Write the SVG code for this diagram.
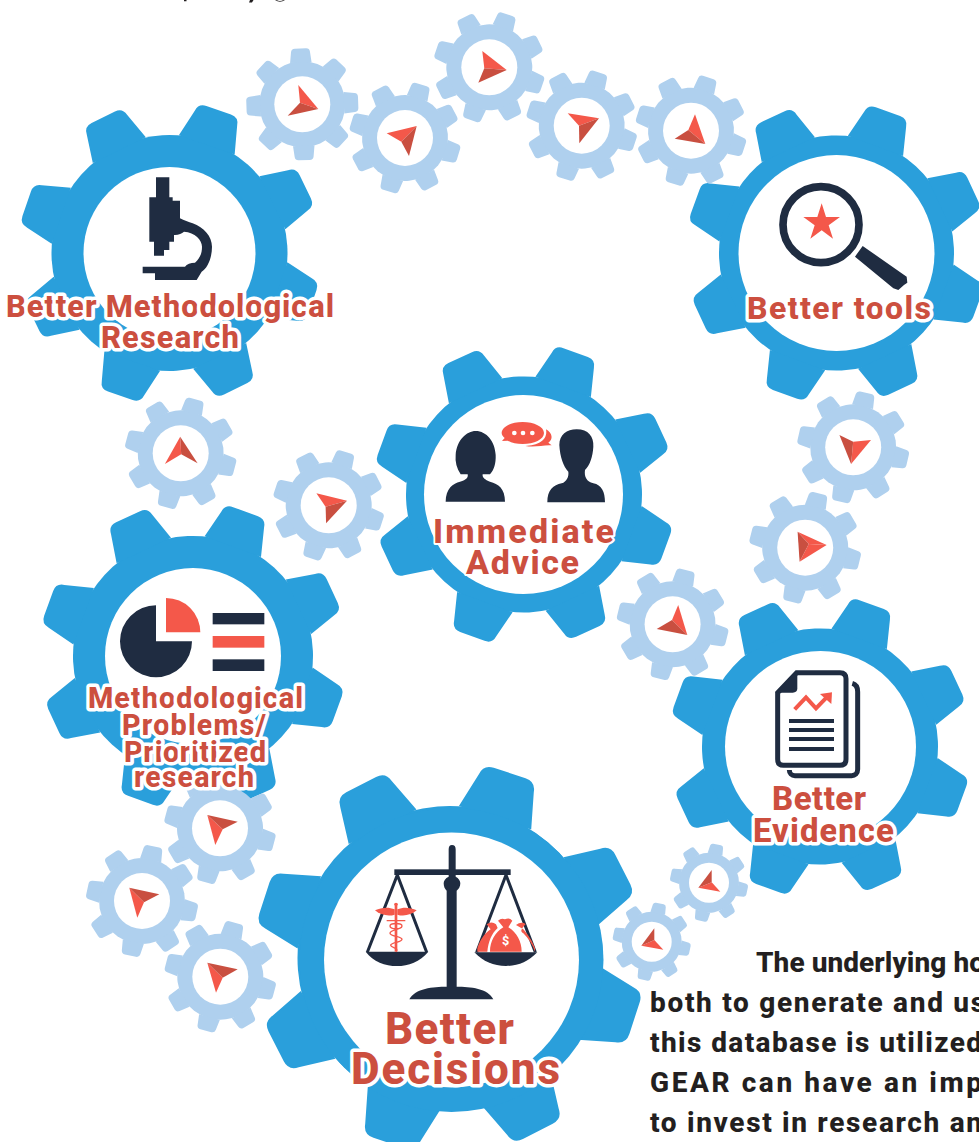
<svg xmlns="http://www.w3.org/2000/svg" width="979" height="1142" viewBox="0 0 979 1142">
<style>
.big{fill:#2A9FDB}
.small{fill:#AFD0EE}
.hole{fill:#fff}
.navy{fill:#1F2C41}
.coral{fill:#F4584A}
.dk{fill:#C94F40}
.lbl{font-family:"Roboto","Liberation Sans",sans-serif;font-weight:800;fill:#CC4F3F;stroke:#fff;stroke-width:7;stroke-linejoin:round;paint-order:stroke fill;text-anchor:start}
.body{font-family:"Roboto","Liberation Sans",sans-serif;font-weight:800;font-size:28px;fill:#231F20}
</style>
<defs>
<path id="tb" d="M-25,-97 L-19,-121 Q-18,-128 -11,-128 L11,-128 Q18,-128 19,-121 L25,-97 Z"/>
<g id="gb"><circle r="100"/><use href="#tb"/><use href="#tb" transform="rotate(45)"/><use href="#tb" transform="rotate(90)"/><use href="#tb" transform="rotate(135)"/><use href="#tb" transform="rotate(180)"/><use href="#tb" transform="rotate(225)"/><use href="#tb" transform="rotate(270)"/><use href="#tb" transform="rotate(315)"/></g>
<path id="ts" d="M-25,-97 L-22,-122 Q-21,-130 -13,-130 L13,-130 Q21,-130 22,-122 L25,-97 Z"/>
<g id="gs"><circle r="100"/><use href="#ts"/><use href="#ts" transform="rotate(45)"/><use href="#ts" transform="rotate(90)"/><use href="#ts" transform="rotate(135)"/><use href="#ts" transform="rotate(180)"/><use href="#ts" transform="rotate(225)"/><use href="#ts" transform="rotate(270)"/><use href="#ts" transform="rotate(315)"/></g>
</defs>
<rect width="979" height="1142" fill="#fff"/>
<path d="M184,0h2.500v1.200h-2.500z M250,0h3.500l-1.500,2.500h-3z M275,0q5,3.500 10,0h-1.500q-3.500,2-7,0z M831,545h3v1h-3z" fill="#231F20"/>

<g id="node-better-methodological-research">
<use href="#gb" class="big" transform="translate(169.500,253) rotate(19) scale(1.18)"/>
<circle class="hole" cx="169.500" cy="253" r="86"/>
<path class="navy" transform="translate(0,90) scale(.33333)" d="M468,262H508V322H518V332H540V385C552,392 566,396 578,400C612,412 636,440 636,470C636,505 622,535 605,545L590,570H465V550H428V530H555C560,522 572,518 585,518C600,505 606,490 606,470C606,450 585,427 552,425C545,430 535,436 522,435V455H508V480H492V497H462V455H448V322H468Z"/>
</g>

<g id="node-better-tools">
<use href="#gb" class="big" transform="translate(836.500,253) rotate(20) scale(1.175)"/>
<circle class="hole" cx="836.500" cy="253" r="98"/>
<g transform="translate(680,100) scale(.33333)">
<circle cx="423" cy="374" r="114" fill="none" stroke="#1F2C41" stroke-width="23"/>
<polygon class="coral" points="425,310 438,351 480,351 446,376 459,416 425,391 391,416 404,376 370,351 412,351"/>
<polygon class="navy" points="525,470 548,438 680,530 682,548 672,555 655,570 640,565"/>
</g>
</g>

<g id="node-immediate-advice">
<use href="#gb" class="big" transform="translate(524,494.500) rotate(20) scale(1.18)"/>
<circle class="hole" cx="523.500" cy="494.500" r="99.500"/>
<g transform="translate(370,340) scale(.33333)">
<path class="navy" d="M227,485C227,445 250,430 270,425C290,420 295,412 293,403H272C260,385 255,365 257,345C260,300 290,273 317,273C350,273 375,305 377,345C378,370 372,390 360,403H338C336,412 345,420 360,425C385,432 405,445 405,485Z"/>
<path class="navy" d="M532,487C532,450 550,435 575,430C590,425 597,410 595,395C580,380 570,350 568,315C568,285 590,268 620,268C655,268 672,290 670,320C668,350 660,375 645,390C642,410 650,425 670,430C695,435 705,455 705,487Z"/>
<path class="coral" d="M458,246C492,246 522,260 522,279C522,298 492,312 458,312C440,312 425,309 413,302L396,303L404,294C398,289 395,284 395,279C395,260 424,246 458,246Z"/>
<circle class="hole" cx="433" cy="279" r="7"/><circle class="hole" cx="459" cy="279" r="7"/><circle class="hole" cx="487" cy="279" r="7"/>
<path class="coral" d="M528,268C548,280 550,298 535,308L545,316C520,314 498,323 466,318C500,317 535,303 528,268Z"/>
</g>
</g>

<g id="node-methodological-problems">
<use href="#gb" class="big" transform="translate(193,656) rotate(20) scale(1.2)"/>
<circle class="hole" cx="193" cy="656" r="88"/>
<g transform="translate(30,500) scale(.33333)">
<path class="navy" d="M378,316A108,108 0 1 0 486,424H378Z"/>
<path class="coral" d="M408,294A103,103 0 0 1 511,397H408Z"/>
<rect class="navy" x="548" y="339" width="155" height="34"/>
<rect class="coral" x="548" y="408" width="155" height="35"/>
<rect class="navy" x="548" y="478" width="155" height="35"/>
</g>
</g>

<g id="node-better-evidence">
<use href="#gb" class="big" transform="translate(820,746.500) rotate(20) scale(1.18)"/>
<circle class="hole" cx="820.500" cy="746.500" r="95.500"/>
<g transform="translate(670,600) scale(.33333)">
<path fill="none" stroke="#1F2C41" stroke-width="15" d="M547,250C558,253 563,262 563,275V508C563,520 555,527 545,527H375C365,527 358,520 358,510"/>
<path fill="none" stroke="#1F2C41" stroke-width="15" d="M380,218H510Q528,218 528,236V478Q528,496 510,496H340Q323,496 323,478V278Z"/>
<path class="navy" d="M382,212V265Q382,278 368,278H316Z"/>
<rect class="navy" x="357" y="357" width="135" height="12"/><rect class="navy" x="357" y="384" width="135" height="12"/><rect class="navy" x="357" y="411" width="135" height="12"/><rect class="navy" x="357" y="441" width="135" height="12"/>
<polyline points="374,328 408,292 438,325 470,292" fill="none" stroke="#F4584A" stroke-width="12"/>
<polygon class="coral" points="450,282 486,277 484,312"/>
</g>
</g>

<g id="node-better-decisions">
<use href="#gb" class="big" transform="translate(449.500,958) rotate(18) scale(1.52)"/>
<circle class="big" cx="451.500" cy="960" r="152"/>
<circle class="hole" cx="451.500" cy="960" r="127.500"/>
<g transform="translate(260,770) scale(.33333)">
<path class="navy" d="M566,238Q566,225 576,225Q587,225 587,238V320C596,325 601,332 601,340C601,350 596,358 590,362V650C630,650 685,655 700,688H448C465,655 520,650 560,650V362C555,358 551,350 551,340C551,332 556,325 566,320Z"/>
<rect class="navy" x="403" y="298" width="349" height="17"/>
<path fill="none" stroke="#1F2C41" stroke-width="9" d="M322,547L412,315L500,547M650,547L738,315L826,547"/>
<path class="navy" d="M317,545H505C480,575 445,588 411,588C375,588 340,575 317,545Z"/>
<path class="navy" d="M643,547H832C805,575 775,588 738,588C700,588 670,575 643,547Z"/>
<g class="coral">
<rect x="404" y="400" width="8" height="145"/><circle cx="408" cy="403" r="5"/>
<path d="M404,418C385,410 365,412 345,421C360,435 385,440 404,434Z"/>
<path d="M412,418C431,410 451,412 470,421C455,435 431,440 412,434Z"/>
</g>
<path fill="none" stroke="#F4584A" stroke-width="4" d="M380,452H436M390,468C390,458 426,458 426,468C426,480 390,478 390,490C390,500 426,498 426,508C426,518 392,516 392,526C392,534 420,534 408,545M426,468C426,480 390,478 390,468"/>
<g class="coral">
<path d="M690,545C690,515 705,487 730,472L714,452Q724,443 735,448Q748,441 757,452L745,472C770,487 785,515 785,545Z"/>
<path d="M652,535C660,510 672,492 692,478L680,463Q695,452 708,463L713,474C695,490 685,515 682,545H652Z"/>
<path d="M825,535C816,510 802,492 790,478L768,465Q783,453 797,462L787,474C783,482 782,484 790,490C805,505 818,525 825,545Z"/>
</g>
<text x="737" y="525" font-family="Roboto,'Liberation Sans',sans-serif" font-weight="700" font-size="38" fill="#fff" text-anchor="middle">$</text>
</g>
</g>

<g id="connectors">
<g id="cog-1"><use href="#gs" class="small" transform="translate(302.300,104.300) rotate(-2) scale(.43)"/><circle class="hole" cx="302.300" cy="104.300" r="28"/><polygon class="coral" points="298.300,85 318.300,109 300,102.700"/><polygon class="dk" points="287.700,115.700 318.300,109 300,102.700"/></g>
<g id="cog-2"><use href="#gs" class="small" transform="translate(405,138) rotate(17) scale(.43)"/><circle class="hole" cx="405" cy="138" r="28"/><polygon class="coral" points="386.700,133.300 416.700,126 401.300,141.700"/><polygon class="dk" points="409,156 416.700,126 401.300,141.700"/></g>
<g id="cog-3"><use href="#gs" class="small" transform="translate(489.300,67.300) rotate(19) scale(.43)"/><circle class="hole" cx="489.300" cy="67.300" r="28"/><polygon class="coral" points="482.300,51 506.700,70 484.300,68.300"/><polygon class="dk" points="478.300,82.700 506.700,70 484.300,68.300"/></g>
<g id="cog-4"><use href="#gs" class="small" transform="translate(581.700,125.700) rotate(18) scale(.43)"/><circle class="hole" cx="581.700" cy="125.700" r="28"/><polygon class="coral" points="567.700,113.300 599,118.300 579,125.700"/><polygon class="dk" points="579.300,143.300 599,118.300 579,125.700"/></g>
<g id="cog-5"><use href="#gs" class="small" transform="translate(691,130.700) rotate(18) scale(.43)"/><circle class="hole" cx="691" cy="130.700" r="28"/><polygon class="coral" points="695,114.300 705.300,144 688.300,130"/><polygon class="dk" points="674.700,138.700 705.300,144 688.300,130"/></g>
<g id="cog-6"><use href="#gs" class="small" transform="translate(180.700,453.300) rotate(15) scale(.43)"/><circle class="hole" cx="180.700" cy="453.300" r="28"/><polygon class="coral" points="164.900,464 180.200,436.700 181.200,454.300"/><polygon class="dk" points="197.600,463.300 180.200,436.700 181.200,454.300"/></g>
<g id="cog-7"><use href="#gs" class="small" transform="translate(328.700,505.300) rotate(18) scale(.43)"/><circle class="hole" cx="328.700" cy="505.300" r="28"/><polygon class="coral" points="316.400,493.300 347,500.700 325.600,506.700"/><polygon class="dk" points="326.100,523.300 347,500.700 325.600,506.700"/></g>
<g id="cog-8"><use href="#gs" class="small" transform="translate(853.200,447.300) rotate(13) scale(.43)"/><circle class="hole" cx="853.200" cy="447.300" r="28"/><polygon class="coral" points="871,440 851.100,464 853.200,441.700"/><polygon class="dk" points="839.400,435 851.100,464 853.200,441.700"/></g>
<g id="cog-9"><use href="#gs" class="small" transform="translate(805.200,547.700) rotate(14) scale(.43)"/><circle class="hole" cx="805.200" cy="547.700" r="28"/><polygon class="coral" points="826.600,545 799.600,561.700 808.800,544"/><polygon class="coral" points="826.600,545 797.600,531.700 808.800,544"/><polygon class="dk" points="797.600,531.700 799.600,561.700 808.800,544"/></g>
<g id="cog-10"><use href="#gs" class="small" transform="translate(672.600,624.300) rotate(14) scale(.43)"/><circle class="hole" cx="672.600" cy="624.300" r="28"/><polygon class="coral" points="678.200,605 687.300,635 672,620"/><polygon class="dk" points="656.700,629 687.300,635 672,620"/></g>
<g id="cog-11"><use href="#gs" class="small" transform="translate(220,828.300) rotate(15) scale(.43)"/><circle class="hole" cx="220" cy="828.300" r="28"/><polygon class="coral" points="215.300,845 207.300,815 222.700,829.300"/><polygon class="dk" points="237.700,821.700 207.300,815 222.700,829.300"/></g>
<g id="cog-12"><use href="#gs" class="small" transform="translate(142,901) rotate(12) scale(.43)"/><circle class="hole" cx="142" cy="901" r="28"/><polygon class="coral" points="137.300,917.700 129.300,887.700 144,902.300"/><polygon class="dk" points="159.300,894.300 129.300,887.700 144,902.300"/></g>
<g id="cog-13"><use href="#gs" class="small" transform="translate(220.300,976.700) rotate(15) scale(.43)"/><circle class="hole" cx="220.300" cy="976.700" r="28"/><polygon class="coral" points="216,992.700 207.300,962.700 222.700,977.700"/><polygon class="dk" points="237.700,969.300 207.300,962.700 222.700,977.700"/></g>
<g id="cog-14"><use href="#gs" class="small" transform="translate(709,882.700) rotate(12) scale(.3)"/><circle class="hole" cx="709" cy="882.700" r="20"/><polygon class="coral" points="720.300,891.700 698.300,887.700 711.700,882.300"/><polygon class="dk" points="711.700,870 698.300,887.700 711.700,882.300"/></g>
<g id="cog-15"><use href="#gs" class="small" transform="translate(651.700,941.700) rotate(12) scale(.3)"/><circle class="hole" cx="651.700" cy="941.700" r="20"/><polygon class="coral" points="663.300,949.700 641.300,945.700 654.300,940"/><polygon class="dk" points="654.300,928.300 641.300,945.700 654.300,940"/></g>
</g>

<g id="labels">
<text class="lbl" x="6" y="316.500" font-size="31" textLength="328">Better Methodological</text>
<text class="lbl" x="101" y="348" font-size="31" textLength="138">Research</text>
<text class="lbl" x="747" y="319" font-size="32" textLength="184">Better tools</text>
<text class="lbl" x="433" y="543" font-size="34" textLength="181" style="stroke-width:4">Immediate</text>
<text class="lbl" x="466" y="574" font-size="34" textLength="113" style="stroke-width:4">Advice</text>
<text class="lbl" x="88" y="708" font-size="29" textLength="215">Methodological</text>
<text class="lbl" x="122" y="735" font-size="29" textLength="144">Problems/</text>
<text class="lbl" x="124" y="762" font-size="29" textLength="142">Prioritized</text>
<text class="lbl" x="134" y="787" font-size="29" textLength="120">research</text>
<text class="lbl" x="772" y="810" font-size="33" textLength="94" style="stroke-width:4">Better</text>
<text class="lbl" x="753" y="842" font-size="33" textLength="141">Evidence</text>
<text class="lbl" x="385" y="1044" font-size="44" textLength="129" style="stroke-width:4">Better</text>
<text class="lbl" x="351" y="1084" font-size="44" textLength="209">Decisions</text>
</g>

<g id="paragraph">
<text class="body" x="756" y="972" textLength="229">The underlying ho</text>
<text class="body" x="650" y="1012" textLength="335">both to generate and us</text>
<text class="body" x="650" y="1052" textLength="332">this database is utilized</text>
<text class="body" x="650" y="1092" textLength="332">GEAR can have an imp</text>
<text class="body" x="650" y="1132" textLength="332">to invest in research an</text>
</g>
</svg>
